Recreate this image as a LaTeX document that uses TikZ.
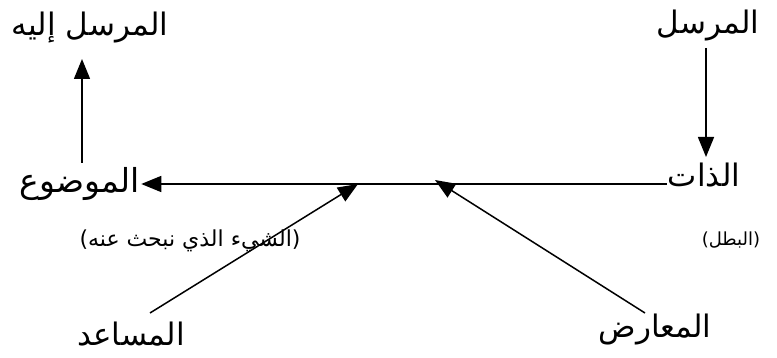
\documentclass[tikz,border=0pt]{standalone}
\usepackage{fontspec}
\usetikzlibrary{arrows.meta}
\TeXXeTstate=1
\newfontfamily\arabicfont[Script=Arabic]{DejaVu Sans}
\tikzset{
  lbl/.style={font=\arabicfont\fontsize{31}{34}\selectfont, inner sep=1pt},
  note/.style={font=\arabicfont\fontsize{#1}{23}\selectfont, inner sep=1pt},
  con/.style={line width=1.5pt, -{Triangle[length=20pt,width=16pt]}},
}
\begin{document}
\begin{tikzpicture}[x=1pt,y=-1pt]
\useasboundingbox (0,0) rectangle (777,358);
\node[lbl] (sender) at (708,26) {\beginR المرسل\endR};
\node[lbl] (subject) at (704,175) {\beginR الذات\endR};
\node[lbl] (receiver) at (90,28) {\beginR المرسل إليه\endR};
\node[lbl,font=\arabicfont\fontsize{33}{36}\selectfont] (object) at (80,184) {\beginR الموضوع\endR};
\node[note=22] (objnote) at (190,241) {\beginR (الشيء الذي نبحث عنه)\endR};
\node[note=18] (subjnote) at (731,240) {\beginR (البطل)\endR};
\node[lbl] (helper) at (131,334) {\beginR المساعد\endR};
\node[lbl] (opponent) at (655,330) {\beginR المعارض\endR};
\coordinate (hline) at (0,184);
\coordinate (sendx) at (706,48);
\coordinate (sendtip) at (706,157);
\coordinate (recvx) at (82,163);
\coordinate (recvtip) at (82,59);
\draw[con] (sendx) -- (sendtip);
\draw[con] (subject.west |- hline) -- (object.east |- hline);
\draw[con] (recvx) -- (recvtip);
\coordinate (helperstart) at (150,313);
\coordinate (helpertip) at (358,184);
\coordinate (oppstart) at (645,313);
\coordinate (opptip) at (435,180);
\draw[con] (helperstart) -- (helpertip);
\draw[con] (oppstart) -- (opptip);
\end{tikzpicture}
\end{document}
